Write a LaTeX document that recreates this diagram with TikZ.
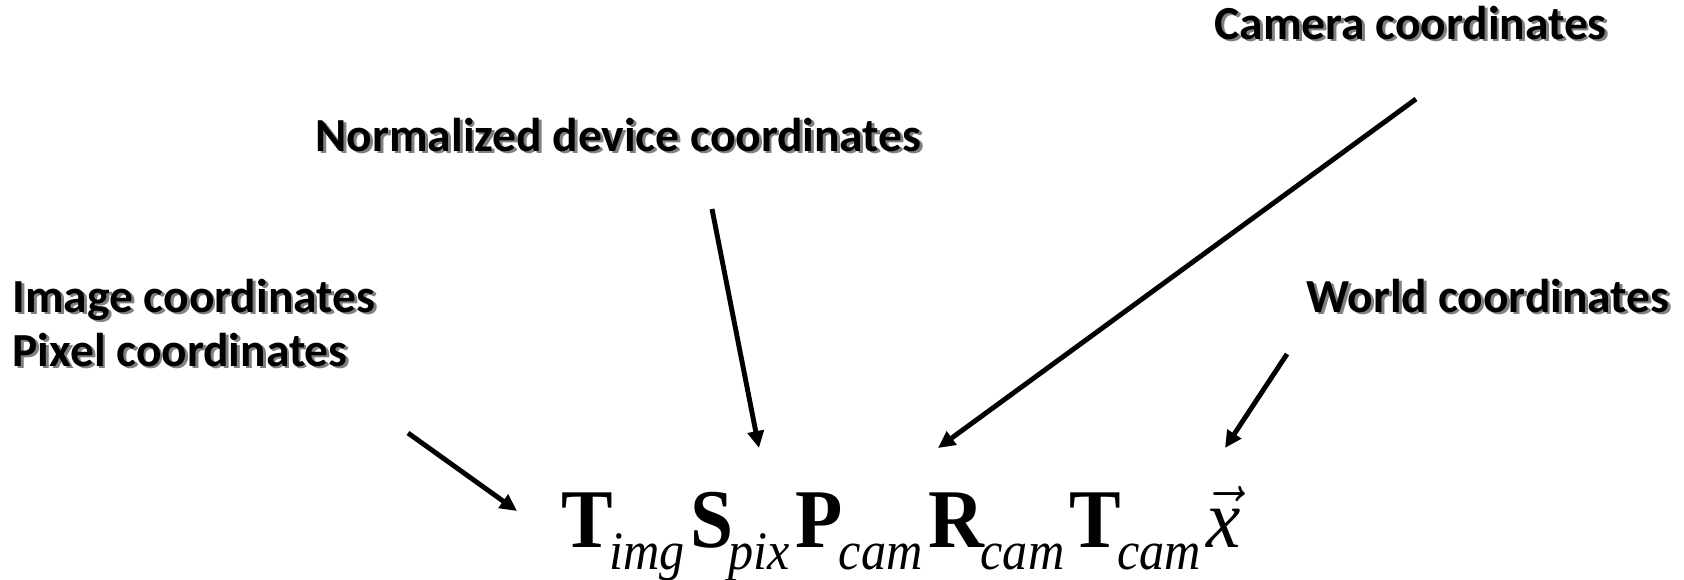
\documentclass[tikz,border=0pt]{standalone}
\usepackage{fontspec}
\setmainfont{Carlito}
\newfontfamily\formulafont{Liberation Serif}
\usetikzlibrary{arrows.meta}

% label text with a soft grey shadow
\newcommand{\shadowed}[1]{\leavevmode\rlap{\textcolor{black!50}{\kern0.8pt\raisebox{-0.8pt}{#1}}}#1}
% bold factor with an italic subscript
\newcommand{\subterm}[2]{\textbf{#1}\kern-1.2pt\raisebox{-5.8pt}{\fontsize{14.3}{14.3}\selectfont\itshape #2}}

\tikzset{
  coordlabel/.style={font=\fontsize{13.5}{13.5}\selectfont\bfseries, inner sep=0pt, anchor=base west},
  factor/.style={font=\formulafont\fontsize{22}{22}\selectfont, inner sep=0pt, anchor=base west,
                 yscale=1.08, transform shape},
  pointer/.style={line width=1.4pt, -{Triangle[length=1.7mm,width=1.6mm]}}
}

\begin{document}
\begin{tikzpicture}
    \useasboundingbox (0,0) rectangle (16.84,5.79);

    % Labels
    \node[coordlabel] (camlbl) at (12.14,5.40) {\shadowed{Camera coordinates}};
    \node[coordlabel] (ndclbl) at (3.15,4.28) {\shadowed{Normalized device coordinates}};
    \node[coordlabel] (imglbl) at (0.12,2.67) {\shadowed{Image coordinates}};
    \node[coordlabel] (pixlbl) at (0.12,2.13) {\shadowed{Pixel coordinates}};
    \node[coordlabel] (wldlbl) at (13.06,2.67) {\shadowed{World coordinates}};

    % Formula
    \node[factor] (timg) at (5.61,0.32) {\subterm{T}{img}};
    \node[factor] (spix) at ([xshift=1.2pt]timg.base east) {\subterm{S}{pix}};
    \node[factor] (pcam) at ([xshift=1.2pt]spix.base east) {\subterm{P}{cam}};
    \node[factor] (rcam) at ([xshift=1.2pt]pcam.base east) {\subterm{R}{cam}};
    \node[factor] (tcam) at ([xshift=1.2pt]rcam.base east) {\subterm{T}{cam}};
    \node[factor] (xvec) at ([xshift=1.2pt]tcam.base east) {$\vec{\hbox{\itshape x}}$};

    % Arrow ends
    \coordinate (imgtail) at (4.08,1.46);
    \coordinate (imgtip) at (5.17,0.68);
    \coordinate (ndctail) at (7.12,3.70);
    \coordinate (ndctip) at (7.59,1.31);
    \coordinate (camtail) at (14.16,4.80);
    \coordinate (camtip) at (9.38,1.31);
    \coordinate (wldtail) at (12.87,2.25);
    \coordinate (wldtip) at (12.25,1.31);

    % Arrows
    \draw[pointer] (imgtail) -- (imgtip);
    \draw[pointer] (ndctail) -- (ndctip);
    \draw[pointer] (camtail) -- (camtip);
    \draw[pointer] (wldtail) -- (wldtip);
\end{tikzpicture}
\end{document}
